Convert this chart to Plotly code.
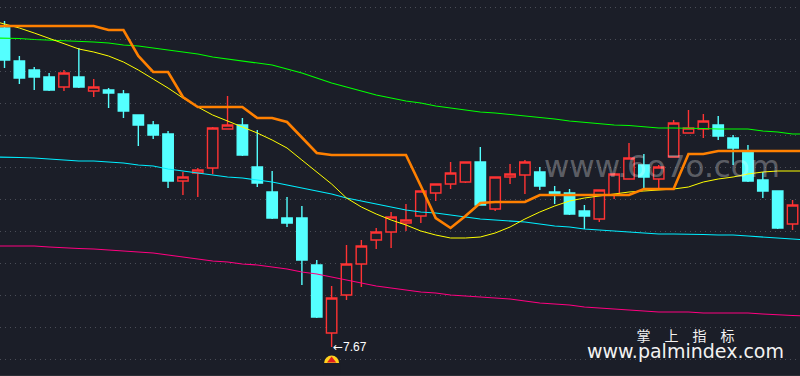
import plotly.graph_objects as go

BG = "#1b1e28"
RED = "#ff3333"
CYAN = "#54ffff"

high = [10.93,10.58,10.47,10.41,10.44,10.66,10.35,10.26,10.24,9.99,9.93,9.83,9.42,9.46,9.87,10.18,9.96,9.84,9.43,9.17,9.08,8.54,8.28,8.69,8.74,8.86,9.02,9.10,9.23,9.30,9.52,9.52,9.67,9.37,9.50,9.54,9.47,9.28,9.25,9.09,9.24,9.41,9.71,9.60,9.49,9.94,10.04,10.00,9.98,9.79,9.69,9.42,9.23,9.14]
open_ = [10.86,10.53,10.44,10.37,10.27,10.37,10.23,10.24,10.20,9.99,9.89,9.80,9.33,9.41,9.46,9.85,9.89,9.47,9.22,8.96,8.96,8.49,7.81,8.19,8.50,8.74,8.82,8.91,8.98,9.21,9.30,9.32,9.52,9.05,9.37,9.39,9.42,9.22,9.21,9.03,8.95,9.19,9.35,9.49,9.35,9.57,9.81,9.85,9.89,9.76,9.62,9.34,9.23,8.90]
close = [10.54,10.36,10.37,10.24,10.41,10.27,10.27,10.21,10.03,9.89,9.79,9.33,9.37,9.44,9.86,9.89,9.59,9.31,8.96,8.91,8.54,7.97,8.16,8.50,8.68,8.82,8.97,8.94,9.23,9.30,9.41,9.52,9.09,9.37,9.40,9.52,9.28,9.20,9.00,8.98,9.24,9.40,9.56,9.37,9.47,9.91,9.86,9.93,9.78,9.66,9.33,9.23,8.86,9.09]
low = [10.46,10.30,10.24,10.23,10.23,10.26,10.17,10.06,9.96,9.68,9.75,9.26,9.19,9.17,9.40,9.85,9.58,9.27,8.95,8.87,8.29,7.96,7.67,8.14,8.27,8.65,8.66,8.83,8.91,9.13,9.25,9.31,9.09,9.03,9.30,9.20,9.24,9.10,8.99,8.85,8.92,9.15,9.35,9.25,9.25,9.57,9.81,9.76,9.74,9.49,9.32,9.16,8.85,8.84]

# indicator lines run one bar past each edge of the window
orange = [10.88]*8 + [10.84,10.84,10.58,10.42,10.42,10.17,10.07,10.07,10.07,10.07,9.96,9.96,9.92,9.76,9.61,9.59,9.59,9.59,9.59,9.59,9.59,9.28,8.96,8.86,8.98,9.11,9.12,9.12,9.12,9.19,9.19,9.19,9.19,9.19,9.19,9.19,9.25,9.25,9.25,9.60,9.60,9.63,9.63,9.63,9.63,9.63,9.63,9.63]
yellow = [10.94,10.90,10.86,10.81,10.755,10.70,10.65,10.62,10.58,10.52,10.44,10.35,10.26,10.16,10.07,9.99,9.93,9.87,9.81,9.74,9.66,9.54,9.42,9.30,9.16,9.07,9.00,8.94,8.89,8.83,8.79,8.76,8.76,8.77,8.81,8.87,8.95,9.02,9.08,9.13,9.16,9.18,9.20,9.22,9.23,9.24,9.25,9.27,9.32,9.35,9.37,9.40,9.42,9.43,9.43,9.43]
green = [10.76,10.76,10.755,10.745,10.74,10.73,10.725,10.72,10.71,10.69,10.68,10.66,10.64,10.62,10.60,10.57,10.55,10.53,10.51,10.49,10.45,10.41,10.36,10.31,10.27,10.23,10.19,10.16,10.13,10.11,10.08,10.06,10.04,10.02,10.01,9.995,9.985,9.97,9.95,9.93,9.915,9.90,9.89,9.885,9.87,9.86,9.86,9.86,9.855,9.85,9.85,9.85,9.83,9.82,9.80,9.80]
cyan_line = [9.57,9.57,9.565,9.56,9.55,9.54,9.53,9.53,9.52,9.51,9.49,9.48,9.45,9.43,9.41,9.39,9.37,9.36,9.34,9.32,9.29,9.26,9.23,9.20,9.16,9.13,9.10,9.07,9.04,9.02,9.01,8.99,8.97,8.95,8.94,8.93,8.92,8.90,8.88,8.87,8.85,8.84,8.83,8.82,8.81,8.80,8.80,8.80,8.795,8.79,8.79,8.78,8.77,8.76,8.75,8.74]
pink = [8.68,8.68,8.68,8.68,8.67,8.66,8.655,8.65,8.64,8.63,8.62,8.61,8.59,8.57,8.55,8.53,8.52,8.50,8.49,8.47,8.45,8.42,8.40,8.37,8.34,8.31,8.28,8.26,8.24,8.22,8.21,8.19,8.18,8.17,8.16,8.15,8.13,8.11,8.10,8.09,8.07,8.06,8.05,8.04,8.03,8.02,8.02,8.02,8.01,8.01,8.01,8.01,8.00,7.99,7.985,7.98]

bars = list(range(len(close)))
line_x = list(range(-1, len(close) + 1))
low_bar = low.index(min(low))
low_text = f"<span style='font-family:DejaVu Sans'>←</span>{min(low):.2f}"

fig = go.Figure()
fig.add_trace(go.Candlestick(
    x=bars, open=open_, high=high, low=low, close=close,
    increasing=dict(line=dict(color=RED, width=1.4), fillcolor=BG),
    decreasing=dict(line=dict(color=CYAN, width=1.4), fillcolor=CYAN),
    whiskerwidth=0, showlegend=False, hoverinfo="skip",
))
for vals, col, w in [(green, "#00ff00", 1.1), (cyan_line, "#00eeff", 1.1),
                     (pink, "#ff0080", 1.1), (yellow, "#ffff00", 1.0),
                     (orange, "#ff8000", 2.6)]:
    fig.add_trace(go.Scatter(x=line_x, y=vals, mode="lines",
                             line=dict(color=col, width=w),
                             showlegend=False, hoverinfo="skip"))

# low-point badge: half disc with a red chevron
for sym, col, size, off in [("circle", "#ffd21e", 15, 0.16),
                            ("triangle-up", "#e02020", 8, 0.135),
                            ("square", BG, 17, 0.245)]:
    fig.add_trace(go.Scatter(x=[low_bar], y=[min(low) - off], mode="markers",
                             marker=dict(symbol=sym, color=col, size=size, line=dict(width=0)),
                             showlegend=False, hoverinfo="skip"))

credit = ("<span style='font-family:Noto Sans CJK SC;font-size:14px'>掌　上　指　标</span><br>"
          "<span style='font-family:DejaVu Sans;font-size:19px'>www.palmindex.com</span>")

fig.update_layout(
    width=800, height=376, autosize=False,
    margin=dict(l=0, r=0, t=0, b=1),
    boxgap=0,
    paper_bgcolor="#2b2e36", plot_bgcolor=BG,
    xaxis=dict(range=[-0.303, 53.5], visible=False, rangeslider=dict(visible=False), fixedrange=True),
    yaxis=dict(range=[7.39, 11.14], showticklabels=False, ticks="", zeroline=False,
               showline=False, fixedrange=True, showgrid=True, tick0=11.07, dtick=0.32,
               gridcolor="#4a4d57", griddash="1px,4px", gridwidth=1),
    annotations=[
        dict(x=low_bar, y=min(low), xref="x", yref="y", text=low_text, showarrow=False,
             xanchor="left", yanchor="middle", xshift=-1,
             font=dict(family="Liberation Sans", size=12, color="#ffffff")),
        dict(x=662/800, y=1-166/375, xref="paper", yref="paper", text="www.6o7o.com",
             showarrow=False, xanchor="center", yanchor="middle",
             font=dict(family="DejaVu Sans", size=31, color="rgba(255,255,255,0.3)")),
        dict(x=685/800, y=1-343/375, xref="paper", yref="paper", text=credit,
             showarrow=False, xanchor="center", yanchor="middle", align="center",
             font=dict(family="DejaVu Sans", size=13, color="#f2f2f2")),
    ],
)
fig.write_html("out.html", config={"displayModeBar": False},
               post_script="document.body.style.margin='0';document.documentElement.style.overflow='hidden';")
